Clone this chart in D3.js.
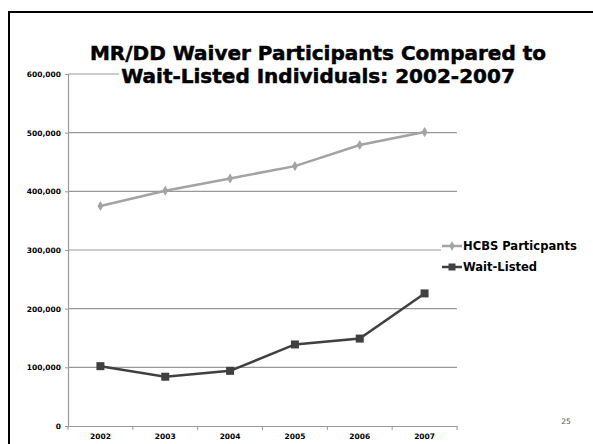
<!DOCTYPE html>
<html><head><meta charset="utf-8">
<script src="https://cdn.jsdelivr.net/npm/d3@7"></script>
<style>
html,body{margin:0;padding:0;background:#fff;}
svg{display:block;}
</style>
</head><body>
<svg id="chart" width="593" height="444"></svg>
<script>
const years = ["2002","2003","2004","2005","2006","2007"];
const hcbs = [375000, 401000, 422000, 443000, 479000, 501000];
const waitListed = [102000, 84000, 94000, 139000, 149000, 226000];
const yTicks = [0, 100000, 200000, 300000, 400000, 500000, 600000];
const seriesNames = ["HCBS Particpants", "Wait-Listed"];
const titleLines = ["MR/DD Waiver Participants Compared to", "Wait-Listed Individuals: 2002-2007"];

const svg = d3.select("#chart");
// slide frame
svg.append("rect").attr("x",9).attr("y",12).attr("width",600).attr("height",450)
  .attr("fill","none").attr("stroke","#000").attr("stroke-width",2);

const m = {left:68, right:457, top:74, bottom:426};
const x = d3.scaleBand().domain(years).range([m.left, m.right]);
const y = d3.scaleLinear().domain([0,600000]).range([m.bottom, m.top]);

// gridlines
svg.append("g").selectAll("line").data(yTicks.filter(d=>d>0)).join("line")
  .attr("x1",m.left).attr("x2",m.right)
  .attr("y1",d=>y(d)).attr("y2",d=>y(d))
  .attr("stroke","#999").attr("stroke-width",1.2);

// y axis
const yAxis = d3.axisLeft(y).tickValues(yTicks).tickSize(3).tickFormat(d3.format(","));
const gy = svg.append("g").attr("transform",`translate(${m.left},0)`).call(yAxis);
gy.select(".domain").attr("stroke","#999").attr("stroke-width",1.2);
gy.selectAll(".tick line").attr("stroke","#999");
gy.selectAll("text").attr("font-family","DejaVu Sans").attr("font-weight","bold")
  .attr("font-size",7.5).attr("fill","#000").attr("x",-7).attr("dy","0.35em");

// x axis
const xAxis = d3.axisBottom(x).tickSize(0).tickPadding(8);
const gx = svg.append("g").attr("transform",`translate(0,${m.bottom})`).call(xAxis);
gx.select(".domain").attr("stroke","#999").attr("stroke-width",1.2);
gx.selectAll("text").attr("font-family","DejaVu Sans").attr("font-weight","bold")
  .attr("font-size",7.5).attr("fill","#000");
const bounds = years.map(d=>x(d)).concat([m.right]);
svg.append("g").selectAll("line").data(bounds).join("line")
  .attr("x1",d=>d).attr("x2",d=>d).attr("y1",m.bottom).attr("y2",m.bottom+4)
  .attr("stroke","#999");

const cx = d => x(d) + x.bandwidth()/2;
const line = d3.line().x((d,i)=>cx(years[i])).y(d=>y(d));

const c1 = "#a3a3a3", c2 = "#404040";
svg.append("path").datum(hcbs).attr("d",line).attr("fill","none")
  .attr("stroke",c1).attr("stroke-width",2.5);
const diamond = d3.symbol().type(d3.symbolDiamond).size(30);
svg.append("g").selectAll("path").data(hcbs).join("path")
  .attr("d",diamond).attr("transform",(d,i)=>`translate(${cx(years[i])},${y(d)})`)
  .attr("fill",c1);

svg.append("path").datum(waitListed).attr("d",line).attr("fill","none")
  .attr("stroke",c2).attr("stroke-width",2.5);
svg.append("g").selectAll("rect").data(waitListed).join("rect")
  .attr("x",(d,i)=>cx(years[i])-4).attr("y",d=>y(d)-4)
  .attr("width",8).attr("height",8).attr("fill",c2);

// title with white backing (hides gridline behind it)
const tg = svg.append("g");
const tTexts = titleLines.map((t,i)=>
  tg.append("text").attr("x",318).attr("y",[60,83][i]).attr("text-anchor","middle")
    .attr("font-family","DejaVu Sans").attr("font-weight","bold")
    .attr("font-size",20).attr("fill","#000").attr("stroke","#000").attr("stroke-width",0.5)
    .text(t));
const bb = tTexts[1].node().getBBox();
tg.insert("rect","text").attr("x",bb.x-2).attr("y",bb.y).attr("width",bb.width+4).attr("height",bb.height)
  .attr("fill","#fff");

// legend with white backing
const lg = svg.append("g");
lg.append("rect").attr("x",441).attr("y",236).attr("width",140).attr("height",42).attr("fill","#fff");
const ly = [246, 267];
const colors = [c1, c2];
seriesNames.forEach((name,i)=>{
  lg.append("line").attr("x1",442).attr("x2",462).attr("y1",ly[i]).attr("y2",ly[i])
    .attr("stroke",colors[i]).attr("stroke-width",2.5);
  if(i===0){
    lg.append("path").attr("d",d3.symbol().type(d3.symbolDiamond).size(26)())
      .attr("transform",`translate(452,${ly[i]})`).attr("fill",colors[i]);
  } else {
    lg.append("rect").attr("x",448.5).attr("y",ly[i]-3.5).attr("width",7).attr("height",7).attr("fill",colors[i]);
  }
  lg.append("text").attr("x",463).attr("y",ly[i]).attr("dy","0.35em")
    .attr("font-family","DejaVu Sans Condensed, DejaVu Sans").attr("font-weight","bold")
    .attr("font-size",12).attr("fill","#000").text(name);
});
const lt = lg.selectAll("text");
const w0 = lt.nodes()[0].getComputedTextLength();
lt.attr("font-size", 12*114/w0);

// page number
svg.append("text").attr("x",566).attr("y",421).attr("dy","0.35em").attr("text-anchor","middle")
  .attr("font-family","DejaVu Sans").attr("font-size",7.5).attr("fill","#555").text("25");
</script>
</body></html>
